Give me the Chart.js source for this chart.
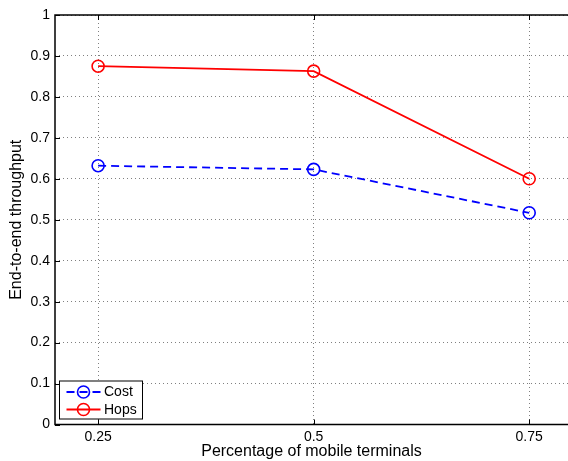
<!DOCTYPE html>
<html>
<head>
<meta charset="utf-8">
<script src="https://cdn.jsdelivr.net/npm/chart.js@4/dist/chart.umd.min.js"></script>
<style>
html,body{margin:0;padding:0;background:#fff;overflow:hidden;}
canvas{display:block;}
</style>
</head>
<body>
<canvas id="c" width="568" height="461" style="width:568px;height:461px"></canvas>
<script>
const categories = [0.25, 0.5, 0.75];
const costValues = [0.632, 0.623, 0.517];
const hopsValues = [0.875, 0.863, 0.600];
const xTickValues = [0.25, 0.5, 0.75];
const yTickValues = [0, 0.1, 0.2, 0.3, 0.4, 0.5, 0.6, 0.7, 0.8, 0.9, 1];
const seriesNames = ['Cost', 'Hops'];
const xTitle = 'Percentage of mobile terminals';
const yTitle = 'End-to-end throughput';
const xAxisMin = 0.2;
const xAxisMax = 0.795; // the reference figure is cropped at the right edge

const FONT = '"Liberation Sans", Arial, Helvetica, sans-serif';

const framePlugin = {
  id: 'frame',
  afterDatasetsDraw(chart) {
    const {ctx, chartArea: a, scales} = chart;
    ctx.save();
    ctx.strokeStyle = '#000';
    ctx.lineWidth = 1;
    ctx.setLineDash([]);
    ctx.beginPath();
    const tl = 5;
    xTickValues.forEach(v => {
      const x = Math.round(scales.x.getPixelForValue(v)) + 0.5;
      ctx.moveTo(x, a.bottom); ctx.lineTo(x, a.bottom - tl);
      ctx.moveTo(x, a.top); ctx.lineTo(x, a.top + tl);
    });
    yTickValues.forEach(v => {
      const y = Math.round(scales.y.getPixelForValue(v)) + 0.5;
      ctx.moveTo(a.left, y); ctx.lineTo(a.left + tl, y);
    });
    ctx.stroke();
    // axes frame: left, top, bottom (right edge lies outside the cropped picture)
    ctx.lineWidth = 1.5;
    ctx.beginPath();
    ctx.moveTo(a.right + 2, a.top); ctx.lineTo(a.left, a.top);
    ctx.lineTo(a.left, a.bottom); ctx.lineTo(a.right + 2, a.bottom);
    ctx.stroke();
    // legend box
    const bx = a.left + 4.5, by = a.bottom - 43.5, bw = 83, bh = 38;
    ctx.fillStyle = '#fff';
    ctx.fillRect(bx, by, bw, bh);
    ctx.lineWidth = 1;
    ctx.strokeRect(bx, by, bw, bh);
    chart.data.datasets.forEach((ds, i) => {
      const cy = by + 11 + i * 17.5;
      ctx.strokeStyle = ds.borderColor;
      ctx.lineWidth = ds.borderWidth;
      ctx.setLineDash(ds.borderDash || []);
      ctx.beginPath();
      ctx.moveTo(bx + 7, cy); ctx.lineTo(bx + 41, cy);
      ctx.stroke();
      ctx.setLineDash([]);
      ctx.lineWidth = ds.pointBorderWidth;
      ctx.beginPath();
      ctx.arc(bx + 24, cy, ds.pointRadius, 0, Math.PI * 2);
      ctx.stroke();
      ctx.fillStyle = '#000';
      ctx.font = '14px ' + FONT;
      ctx.textBaseline = 'middle';
      ctx.textAlign = 'left';
      ctx.fillText(ds.label, bx + 44.5, cy + 0.5);
    });
    ctx.restore();
  }
};

new Chart(document.getElementById('c'), {
  type: 'line',
  data: {
    datasets: [
      {
        label: seriesNames[0],
        data: categories.map((c, i) => ({x: c, y: costValues[i]})),
        borderColor: '#0000ff',
        borderWidth: 1.8,
        borderDash: [8, 5],
        pointStyle: 'circle',
        pointRadius: 6,
        pointBorderWidth: 1.6,
        pointBorderColor: '#0000ff',
        pointBackgroundColor: 'rgba(0,0,0,0)',
        fill: false,
        tension: 0
      },
      {
        label: seriesNames[1],
        data: categories.map((c, i) => ({x: c, y: hopsValues[i]})),
        borderColor: '#ff0000',
        borderWidth: 1.8,
        pointStyle: 'circle',
        pointRadius: 6,
        pointBorderWidth: 1.6,
        pointBorderColor: '#ff0000',
        pointBackgroundColor: 'rgba(0,0,0,0)',
        fill: false,
        tension: 0
      }
    ]
  },
  options: {
    responsive: false,
    maintainAspectRatio: false,
    animation: false,
    devicePixelRatio: 1,
    layout: {autoPadding: false, padding: {top: 15, right: 0, left: 0, bottom: 0}},
    plugins: {legend: {display: false}, tooltip: {enabled: false}},
    scales: {
      x: {
        type: 'linear',
        min: xAxisMin,
        max: xAxisMax,
        afterBuildTicks: s => { s.ticks = xTickValues.map(v => ({value: v})); },
        afterFit: s => { s.height = 36.5; s.paddingLeft = 0; s.paddingRight = 0; },
        ticks: {
          color: '#000',
          font: {family: FONT, size: 14},
          padding: 4,
          callback: v => String(v)
        },
        grid: {color: '#808080', lineWidth: 1, drawTicks: false},
        border: {display: false, dash: [1, 3]},
        title: {display: true, text: xTitle, color: '#000', font: {family: FONT, size: 16}, padding: {top: 0, bottom: 0}}
      },
      y: {
        type: 'linear',
        min: 0,
        max: 1,
        afterBuildTicks: s => { s.ticks = yTickValues.map(v => ({value: v})); },
        afterFit: s => { s.width = 55; s.paddingTop = 0; s.paddingBottom = 0; },
        ticks: {
          color: '#000',
          font: {family: FONT, size: 14},
          padding: 5,
          callback: v => String(Math.round(v * 10) / 10)
        },
        grid: {color: '#808080', lineWidth: 1, drawTicks: false},
        border: {display: false, dash: [1, 3]},
        title: {display: true, text: yTitle, color: '#000', font: {family: FONT, size: 16}, padding: {top: 7, bottom: 0}}
      }
    }
  },
  plugins: [framePlugin]
});
</script>
</body>
</html>
